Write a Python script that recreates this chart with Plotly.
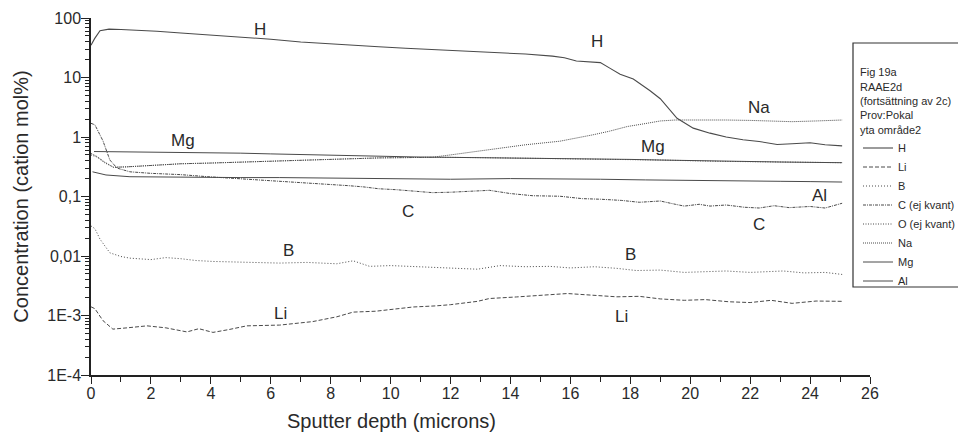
import numpy as np
import plotly.graph_objects as go

# ---------------- data ----------------
h_depth = [0, 0.12, 0.3, 0.6, 1.0, 1.5, 2.2, 3.0, 4.0, 5.0, 5.4, 6.0, 7.0, 8.0, 9.0, 9.6, 10.5, 11.4,
           12.5, 13.65, 14.5, 15.4, 15.8, 16.2, 16.6, 17.0, 17.3, 17.66, 18.1, 18.66, 19.0, 19.56, 20.1,
           20.66, 21.2, 21.76, 22.3, 22.9, 23.4, 24.0, 24.5, 25.07]
h_conc = [35, 45, 61, 65, 64, 63, 60, 56, 52, 48.5, 47, 44, 39.5, 36.5, 34, 32.8, 31, 29.6,
          28, 26.4, 24.8, 22.9, 21.5, 18.9, 18.5, 17.8, 14.5, 11.3, 9.4, 6.0, 4.4, 2.06, 1.41,
          1.16, 1.0, 0.90, 0.84, 0.75, 0.77, 0.80, 0.74, 0.71]

li_depth = [0, 0.13, 0.4, 0.73, 1.2, 1.87, 2.5, 3.2, 3.6, 4.07, 4.6, 5.2, 6.3, 7.4, 8.2, 8.75, 9.5,
            10.75, 11.5, 12.0, 12.9, 13.3, 14.2, 15.0, 15.9, 16.7, 17.55, 18.3, 19.0, 19.8, 20.5,
            21.3, 22.0, 22.7, 23.4, 24.2, 25.07]
li_conc = [0.0014, 0.0013, 0.00082, 0.00059, 0.00062, 0.00067, 0.00062, 0.00053, 0.00060, 0.00052,
           0.00058, 0.00067, 0.00069, 0.00079, 0.00095, 0.00114, 0.00118, 0.00139, 0.00145, 0.00152,
           0.00173, 0.00193, 0.00205, 0.0022, 0.00234, 0.0022, 0.00206, 0.0021, 0.0019, 0.0018,
           0.00185, 0.0017, 0.00165, 0.0018, 0.0016, 0.00175, 0.00173]

b_depth = [0, 0.13, 0.3, 0.63, 1.0, 1.3, 2, 2.5, 3, 3.5, 4.07, 5, 6.3, 7.2, 8.2, 8.75, 9.3, 10,
           10.75, 11.5, 12.3, 12.9, 13.65, 14.5, 15.3, 16.0, 16.8, 17.55, 18.2, 19.0, 19.8, 20.5,
           21.2, 22.0, 23.1, 23.8, 24.5, 25.07]
b_conc = [0.032, 0.0288, 0.0192, 0.0113, 0.0098, 0.0092, 0.0087, 0.0094, 0.0090, 0.0084, 0.0081,
          0.0079, 0.0076, 0.0078, 0.0074, 0.0083, 0.0067, 0.0069, 0.0067, 0.0064, 0.0063, 0.0060,
          0.0069, 0.0066, 0.0067, 0.0063, 0.0066, 0.0062, 0.0057, 0.0058, 0.0053, 0.0055, 0.0056,
          0.0053, 0.0056, 0.0052, 0.0053, 0.0049]

c_depth = [0, 0.13, 0.4, 0.63, 0.87, 1.3, 2, 3, 3.9, 4.6, 5.5, 6.3, 7.1, 7.9, 8.6, 9.1, 9.6, 10.2,
           10.75, 11.4, 12.0, 12.5, 13.3, 14.0, 14.75, 15.65, 16.4, 17.0, 17.7, 18.3, 19.0, 19.5,
           19.8, 20.3, 20.66, 21.2, 21.8, 22.3, 22.8, 23.3, 24.0, 24.5, 25.07]
c_conc = [1.7, 1.6, 0.86, 0.41, 0.30, 0.26, 0.245, 0.233, 0.215, 0.205, 0.19, 0.18, 0.17, 0.16,
          0.152, 0.145, 0.135, 0.13, 0.124, 0.116, 0.118, 0.122, 0.127, 0.112, 0.103, 0.101, 0.092,
          0.090, 0.086, 0.080, 0.084, 0.074, 0.069, 0.074, 0.069, 0.072, 0.066, 0.064, 0.070, 0.065,
          0.068, 0.064, 0.077]

o_depth = [0, 0.2, 0.45, 0.75, 1.2, 2, 3, 4, 5, 6.3, 7, 8, 9.6, 10.5, 11.4, 13, 15, 17, 19, 21,
           23, 25.07]
o_conc = [0.50, 0.46, 0.37, 0.31, 0.315, 0.33, 0.355, 0.365, 0.38, 0.394, 0.41, 0.42, 0.445, 0.45,
          0.457, 0.45, 0.44, 0.43, 0.41, 0.39, 0.38, 0.37]

na_depth = [0, 0.2, 0.45, 0.75, 1.2, 2, 3, 4, 5, 6.3, 7, 8, 9.6, 10.5, 11.4, 12, 12.8, 13.65, 14.5,
            15.65, 16.2, 16.76, 17.3, 17.9, 18.5, 19.0, 19.5, 20, 21.2, 22, 22.8, 23.4, 24.2, 25.07]
na_conc = [0.53, 0.47, 0.38, 0.31, 0.315, 0.33, 0.355, 0.365, 0.38, 0.394, 0.41, 0.42, 0.445, 0.45,
           0.457, 0.5, 0.57, 0.66, 0.74, 0.85, 0.95, 1.09, 1.25, 1.50, 1.68, 1.86, 1.93, 1.94, 1.93,
           1.90, 1.85, 1.81, 1.86, 1.93]

mg_depth = [0.1, 1, 2, 3, 4, 5, 6, 7, 8, 9, 10, 11, 12, 13, 14, 15, 16, 17, 18, 19, 20, 21, 22, 23,
            24, 25.07]
mg_conc = [0.57, 0.565, 0.56, 0.555, 0.545, 0.535, 0.52, 0.505, 0.49, 0.48, 0.47, 0.46, 0.455, 0.45,
           0.445, 0.44, 0.44, 0.43, 0.42, 0.41, 0.40, 0.39, 0.385, 0.38, 0.375, 0.37]

al_depth = [0.05, 0.5, 1.3, 3, 5, 6.3, 8, 10, 12, 14, 15.65, 17, 18.5, 20, 21.5, 23, 24, 25.07]
al_conc = [0.26, 0.23, 0.215, 0.21, 0.208, 0.208, 0.205, 0.2, 0.195, 0.2, 0.2, 0.195, 0.19, 0.185,
           0.183, 0.18, 0.178, 0.175]

y_tickvals = [1e-4, 1e-3, 1e-2, 1e-1, 1, 10, 100]
y_ticktext = ["1E-4", "1E-3", "0,01", "0,1", "1", "10", "100"]
x_tickvals = list(range(0, 27, 2))

legend_title = "Fig 19a<br>RAAE2d<br>(fortsättning av 2c)<br>Prov:Pokal<br>yta område2"

# labels placed on the curves: (text, depth, concentration)
curve_labels = [("H", 5.64, 63), ("H", 16.9, 41), ("Na", 22.3, 3.19), ("Mg", 3.07, 0.857),
                ("Mg", 18.76, 0.68), ("C", 10.58, 0.057), ("C", 22.3, 0.0345), ("Al", 24.33, 0.102),
                ("B", 6.58, 0.0126), ("B", 17.99, 0.0108), ("Li", 6.31, 0.0011), ("Li", 17.72, 0.00098)]

# ---------------- figure ----------------
FONT = "Liberation Sans, Arial, Helvetica, sans-serif"
LC = "#4a4a4a"
TXT = "#2a2a2a"

series = [
    ("H", h_depth, h_conc, "solid", 1.1),
    ("Li", li_depth, li_conc, "4px,2px", 1.0),
    ("B", b_depth, b_conc, "1px,2px", 1.0),
    ("C (ej kvant)", c_depth, c_conc, "3px,1px,1px,1px", 1.0),
    ("O (ej kvant)", o_depth, o_conc, "1px,1.5px", 1.0),
    ("Na", na_depth, na_conc, "1px,1px", 1.0),
    ("Mg", mg_depth, mg_conc, "solid", 1.0),
    ("Al", al_depth, al_conc, "solid", 1.0),
]

fig = go.Figure()
for name, xs, ys, dash, w in series:
    fig.add_trace(go.Scatter(x=xs, y=ys, mode="lines", name=name,
                             line=dict(color=LC, width=w, dash=dash)))

for text, d, v in curve_labels:
    fig.add_annotation(x=d, y=np.log10(v), xref="x", yref="y", text=text, showarrow=False,
                       font=dict(family=FONT, size=17, color=TXT))

# plot area in window pixels: x 91..870, y 18..375 (page has an 8px body margin)
PW, PH = 779.0, 357.0

# x-axis title (sits left of the plot centre in the original)
fig.add_annotation(x=(391 - 91) / PW, y=-(421 - 375) / PH, xref="paper", yref="paper",
                   xanchor="center", yanchor="middle",
                   text="Sputter depth (microns)", showarrow=False,
                   font=dict(family=FONT, size=20, color=TXT))

# legend frame
fig.add_shape(type="rect", xref="paper", yref="paper",
              x0=(853 - 91) / PW, x1=1.3, y0=(375 - 287) / PH, y1=(375 - 43) / PH,
              line=dict(color="#333", width=1.2), fillcolor="white", layer="below")

minor_y = [k * 10.0 ** e for e in range(-4, 2) for k in range(2, 10)]

fig.update_layout(
    width=958, height=427,
    margin=dict(l=83, r=96, t=10, b=60, autoexpand=False),
    paper_bgcolor="white", plot_bgcolor="white",
    font=dict(family=FONT, color=TXT),
    showlegend=True,
    legend=dict(x=(858 - 91) / PW, y=(375 - 62) / PH, xanchor="left", yanchor="top",
                bgcolor="rgba(0,0,0,0)", borderwidth=0,
                font=dict(family=FONT, size=11, color=TXT),
                title=dict(text=legend_title, font=dict(family=FONT, size=11, color=TXT)),
                itemwidth=30, tracegroupgap=0),
    xaxis=dict(range=[0, 26], tickvals=x_tickvals, ticks="outside", ticklen=7, tickwidth=1.3,
               showline=True, linecolor="#222", linewidth=1.5, showgrid=False, zeroline=False,
               ticklabelstandoff=-4,
               tickfont=dict(family=FONT, size=16, color=TXT), tickcolor="#222",
               minor=dict(dtick=1, ticks="outside", ticklen=5, tickcolor="#222", showgrid=False)),
    yaxis=dict(type="log", range=[-4, 2], tickvals=y_tickvals, ticktext=y_ticktext,
               ticks="outside", ticklen=8, tickwidth=1.3, tickcolor="#222",
               showline=True, linecolor="#222", linewidth=1.5, showgrid=False, zeroline=False,
               ticklabelstandoff=-3,
               tickfont=dict(family=FONT, size=16, color=TXT),
               title=dict(text="Concentration (cation mol%)", standoff=13,
                          font=dict(family=FONT, size=20, color=TXT)),
               minor=dict(tickvals=minor_y, ticks="outside", ticklen=4, tickcolor="#222",
                          showgrid=False)),
)

fig.write_html("out.html")
